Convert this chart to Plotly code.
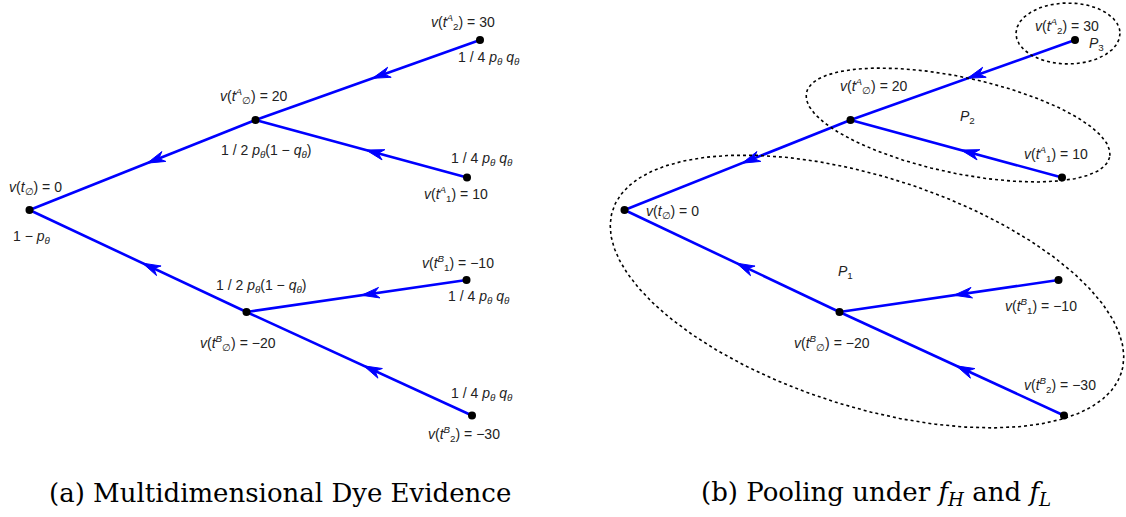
import numpy as np
import plotly.graph_objects as go

# ---- tree data (pixel coordinates of nodes) ----
node_names = ["root", "A0", "A2", "A1", "B0", "B1", "B2"]
node_x_a = [29.5, 255.5, 480, 467, 246.5, 466.5, 472]
node_y_a = [210, 120, 40, 177.5, 312, 280, 415.5]
node_x_b = [624.5, 850.5, 1075, 1062, 839.5, 1058.5, 1064]
node_y_b = [210, 120, 40, 177.5, 312, 280, 415.5]
edges = [(0, 1), (0, 4), (1, 2), (1, 3), (4, 5), (4, 6)]  # parent, child

# ---- labels ----
V = {
    "root": "<i>v</i>(<i>t</i><sub>∅</sub>) = 0",
    "A0": "<i>v</i>(<i>t</i><sup><i>A</i></sup><sub>∅</sub>) = 20",
    "A2": "<i>v</i>(<i>t</i><sup><i>A</i></sup><sub>2</sub>) = 30",
    "A1": "<i>v</i>(<i>t</i><sup><i>A</i></sup><sub>1</sub>) = 10",
    "B0": "<i>v</i>(<i>t</i><sup><i>B</i></sup><sub>∅</sub>) = −20",
    "B1": "<i>v</i>(<i>t</i><sup><i>B</i></sup><sub>1</sub>) = −10",
    "B2": "<i>v</i>(<i>t</i><sup><i>B</i></sup><sub>2</sub>) = −30",
}
P_ROOT = "1 − <i>p</i><sub><i>θ</i></sub>"
P_HALF = "1 / 2 <i>p</i><sub><i>θ</i></sub>(1 − <i>q</i><sub><i>θ</i></sub>)"
P_QUART = "1 / 4 <i>p</i><sub><i>θ</i></sub> <i>q</i><sub><i>θ</i></sub>"

labels_a_text = [V["root"], P_ROOT, V["A0"], P_HALF, V["A2"], P_QUART, P_QUART, V["A1"],
                 P_HALF, V["B0"], V["B1"], P_QUART, P_QUART, V["B2"]]
labels_a_x = [35, 32, 254, 266, 463, 489, 482, 456, 261, 238, 458, 479, 482, 464]
labels_a_y = [188, 237, 96, 151, 22, 58, 159, 194, 286, 343, 263, 297, 394, 434]

labels_b_text = [V["root"], V["A0"], V["A2"], "<i>P</i><sub>3</sub>", "<i>P</i><sub>2</sub>", V["A1"],
                 "<i>P</i><sub>1</sub>", V["B1"], V["B0"], V["B2"]]
labels_b_x = [672, 874, 1067, 1096, 967, 1056, 845, 1041, 832, 1060]
labels_b_y = [212, 86, 26, 44, 117, 154, 272, 306, 343, 385]

# ---- pooling ellipses: center x, center y, semi-axis a, semi-axis b, tilt (deg) ----
ell_cx = [1068, 958, 867]
ell_cy = [33.5, 125, 291.5]
ell_a = [52, 155, 267]
ell_b = [30.5, 48, 115]
ell_rot = [0, 12, 17.7]

captions = ["(a) Multidimensional Dye Evidence",
            "(b) Pooling under <i>f</i><sub><i>H</i></sub> and <i>f</i><sub><i>L</i></sub>"]
caption_x = [280, 876]
caption_y = [493, 493]

BLUE = "#0000ff"
fig = go.Figure()
annotations = []

def draw_tree(nx, ny):
    for p, c in edges:
        fig.add_trace(go.Scatter(x=[nx[p], nx[c]], y=[ny[p], ny[c]], mode="lines",
                                 line=dict(color=BLUE, width=2.6), hoverinfo="skip",
                                 showlegend=False))
    for p, c in edges:
        mx, my = (nx[p] + nx[c]) / 2, (ny[p] + ny[c]) / 2
        dx, dy = nx[p] - nx[c], ny[p] - ny[c]
        L = np.hypot(dx, dy)
        ux, uy = dx / L, dy / L        # direction toward parent
        vx, vy = -uy, ux              # normal
        tx, ty = mx - 5 * ux, my - 5 * uy
        hl, hw, nd = 18, 5.3, 12.5
        px = [tx, tx - hl * ux + hw * vx, tx - nd * ux, tx - hl * ux - hw * vx, tx]
        py = [ty, ty - hl * uy + hw * vy, ty - nd * uy, ty - hl * uy - hw * vy, ty]
        fig.add_trace(go.Scatter(x=px, y=py, mode="lines", fill="toself", fillcolor=BLUE,
                                 line=dict(color=BLUE, width=1), hoverinfo="skip",
                                 showlegend=False))
    fig.add_trace(go.Scatter(x=nx, y=ny, mode="markers",
                             marker=dict(color="black", size=8), hoverinfo="skip",
                             showlegend=False))

draw_tree(node_x_a, node_y_a)
draw_tree(node_x_b, node_y_b)

t = np.linspace(0, 2 * np.pi, 400)
for cx, cy, a, b, r in zip(ell_cx, ell_cy, ell_a, ell_b, ell_rot):
    th = np.deg2rad(r)
    ex = cx + a * np.cos(t) * np.cos(th) - b * np.sin(t) * np.sin(th)
    ey = cy + a * np.cos(t) * np.sin(th) + b * np.sin(t) * np.cos(th)
    fig.add_trace(go.Scatter(x=ex, y=ey, mode="lines",
                             line=dict(color="black", width=1.6, dash="dot"),
                             hoverinfo="skip", showlegend=False))

lab_font = dict(family="Liberation Sans, Arial, sans-serif", size=14, color="#222")
for txt, x, y in list(zip(labels_a_text, labels_a_x, labels_a_y)) + \
        list(zip(labels_b_text, labels_b_x, labels_b_y)):
    annotations.append(dict(x=x, y=y, xref="x", yref="y", text=txt, showarrow=False,
                            font=lab_font, xanchor="center", yanchor="middle"))

for txt, x, y in zip(captions, caption_x, caption_y):
    annotations.append(dict(x=x, y=y, xref="x", yref="y", text=txt, showarrow=False,
                            font=dict(family="DejaVu Serif, serif", size=26, color="black"),
                            xanchor="center", yanchor="middle"))

fig.update_layout(width=1126, height=517, margin=dict(l=0, r=0, t=0, b=0),
                  paper_bgcolor="white", plot_bgcolor="white",
                  xaxis=dict(range=[0, 1126], visible=False, fixedrange=True),
                  yaxis=dict(range=[517, 0], visible=False, fixedrange=True),
                  annotations=annotations, showlegend=False)
fig.write_html("out.html")
